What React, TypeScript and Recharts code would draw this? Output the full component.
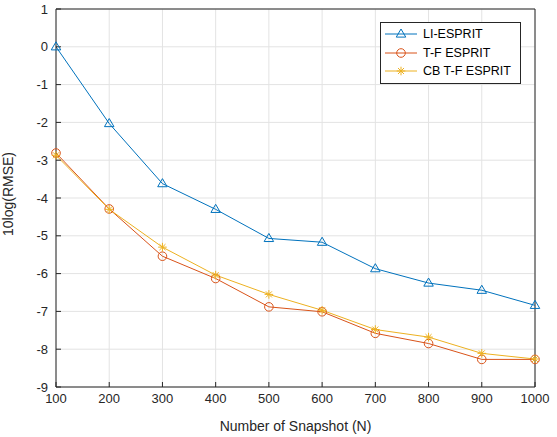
import { CartesianGrid, Line, LineChart, ReferenceLine, XAxis, YAxis } from "recharts";

const snapshots = [100, 200, 300, 400, 500, 600, 700, 800, 900, 1000];
const liEsprit = [0, -2.03, -3.62, -4.3, -5.07, -5.17, -5.87, -6.25, -6.44, -6.84];
const tfEsprit = [-2.81, -4.29, -5.54, -6.13, -6.88, -7.01, -7.58, -7.85, -8.27, -8.27];
const cbTfEsprit = [-2.87, -4.3, -5.3, -6.04, -6.55, -6.97, -7.48, -7.68, -8.11, -8.26];
const yTicks = [-9, -8, -7, -6, -5, -4, -3, -2, -1, 0, 1];

const BLUE = "#0072BD";
const ORANGE = "#D95319";
const YELLOW = "#EDB120";
const INK = "#262626";
const FONT = '"Liberation Sans", Arial, sans-serif';

const data = snapshots.map((n, i) => ({
  n,
  li: liEsprit[i],
  tf: tfEsprit[i],
  cb: cbTfEsprit[i],
}));

function Triangle({ cx, cy, color }: { cx: number; cy: number; color: string }) {
  const r = 5;
  return (
    <path
      d={`M${cx},${cy - r} L${cx + r * 0.95},${cy + r * 0.62} L${cx - r * 0.95},${cy + r * 0.62} Z`}
      fill="none"
      stroke={color}
      strokeWidth={1}
    />
  );
}

function Circle({ cx, cy, color }: { cx: number; cy: number; color: string }) {
  return <circle cx={cx} cy={cy} r={4.3} fill="none" stroke={color} strokeWidth={1} />;
}

function Star({ cx, cy, color }: { cx: number; cy: number; color: string }) {
  const r = 4.3;
  const d = r * 0.7;
  return (
    <g stroke={color} strokeWidth={1}>
      <line x1={cx - r} y1={cy} x2={cx + r} y2={cy} />
      <line x1={cx} y1={cy - r} x2={cx} y2={cy + r} />
      <line x1={cx - d} y1={cy - d} x2={cx + d} y2={cy + d} />
      <line x1={cx - d} y1={cy + d} x2={cx + d} y2={cy - d} />
    </g>
  );
}

const legendItems = [
  { label: "LI-ESPRIT", color: BLUE, Marker: Triangle },
  { label: "T-F ESPRIT", color: ORANGE, Marker: Circle },
  { label: "CB T-F ESPRIT", color: YELLOW, Marker: Star },
];

function MatlabLegend() {
  return (
    <div
      style={{
        position: "absolute",
        left: 380,
        top: 22,
        border: `1px solid ${INK}`,
        background: "#fff",
        width: 139,
        padding: "2px 0 2px 0",
        fontFamily: FONT,
        fontSize: 12.5,
        color: "#000",
      }}
    >
      {legendItems.map(({ label, color, Marker }) => (
        <div key={label} style={{ display: "flex", alignItems: "center", height: 18.5 }}>
          <svg width={42} height={18}>
            <line x1={4} y1={9} x2={36} y2={9} stroke={color} strokeWidth={1} />
            <Marker cx={20} cy={9} color={color} />
          </svg>
          <span>{label}</span>
        </div>
      ))}
    </div>
  );
}

export default function App() {
  return (
    <div style={{ position: "absolute", left: 0, top: 0, width: 557, height: 437, background: "#fff" }}>
      <LineChart width={557} height={437} data={data} margin={{ top: 9, right: 22, bottom: 0, left: 0 }}>
        <CartesianGrid stroke="#e3e3e3" strokeWidth={1} />
        <XAxis
          dataKey="n"
          type="number"
          domain={[100, 1000]}
          ticks={snapshots}
          height={50}
          tickSize={-5}
          tickMargin={12}
          stroke={INK}
          tick={{ fill: INK, fontSize: 13, fontFamily: FONT }}
          label={{
            value: "Number of Snapshot (N)",
            position: "insideBottom",
            offset: 6,
            fill: INK,
            fontSize: 14,
            fontFamily: FONT,
          }}
        />
        <YAxis
          type="number"
          domain={[-9, 1]}
          ticks={yTicks}
          width={56}
          tickSize={-5}
          tickMargin={13}
          stroke={INK}
          interval={0}
          tick={{ fill: INK, fontSize: 13, fontFamily: FONT }}
          label={{
            value: "10log(RMSE)",
            angle: -90,
            position: "insideLeft",
            offset: 8,
            dy: 38,
            fill: INK,
            fontSize: 14,
            fontFamily: FONT,
          }}
        />
        <ReferenceLine y={1} stroke={INK} strokeWidth={1} ifOverflow="extendDomain" />
        <ReferenceLine x={1000} stroke={INK} strokeWidth={1} ifOverflow="extendDomain" />
        <Line
          dataKey="li"
          name="LI-ESPRIT"
          stroke={BLUE}
          strokeWidth={1}
          isAnimationActive={false}
          dot={(p: any) => <Triangle key={`li${p.index}`} cx={p.cx} cy={p.cy} color={BLUE} />}
          activeDot={false}
        />
        <Line
          dataKey="tf"
          name="T-F ESPRIT"
          stroke={ORANGE}
          strokeWidth={1}
          isAnimationActive={false}
          dot={(p: any) => <Circle key={`tf${p.index}`} cx={p.cx} cy={p.cy} color={ORANGE} />}
          activeDot={false}
        />
        <Line
          dataKey="cb"
          name="CB T-F ESPRIT"
          stroke={YELLOW}
          strokeWidth={1}
          isAnimationActive={false}
          dot={(p: any) => <Star key={`cb${p.index}`} cx={p.cx} cy={p.cy} color={YELLOW} />}
          activeDot={false}
        />
      </LineChart>
      <MatlabLegend />
    </div>
  );
}
